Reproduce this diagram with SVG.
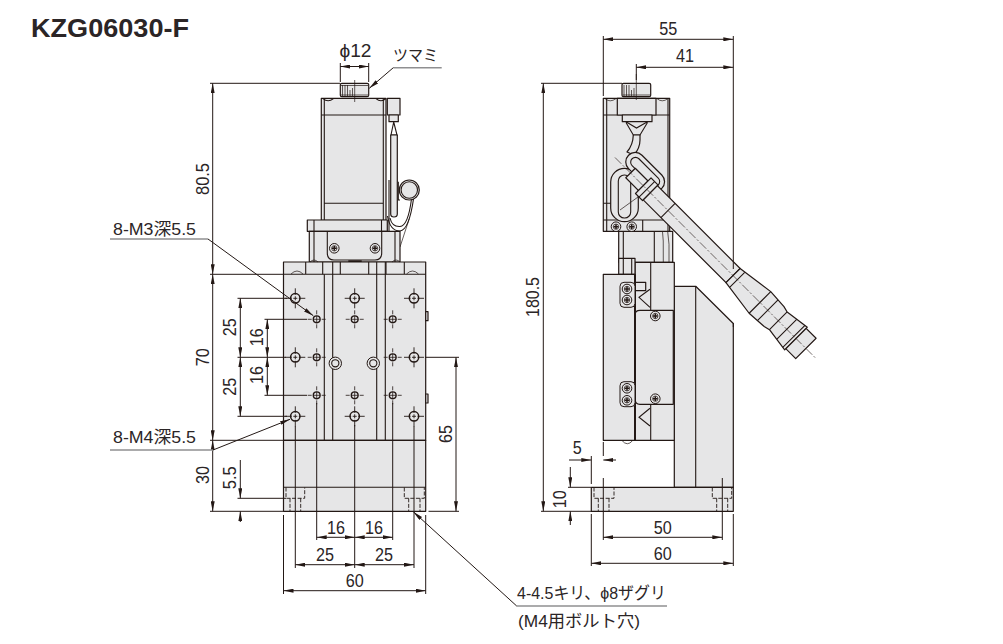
<svg xmlns="http://www.w3.org/2000/svg" xmlns:xlink="http://www.w3.org/1999/xlink" width="1003" height="644" viewBox="0 0 1003 644">
<style>
text{font-family:"Liberation Sans","Noto Sans CJK JP",sans-serif;font-size:19px;fill:#2b2526}
.jp{font-size:17px}
.b{fill:#e6e6e7;stroke:#231815;stroke-width:1.2;stroke-linejoin:round}
.l{fill:none;stroke:#231815;stroke-width:1.1}
.t{fill:none;stroke:#231815;stroke-width:2}
.n{fill:none;stroke:#231815;stroke-width:.7}
.d{fill:none;stroke:#231815;stroke-width:1}
.c{fill:none;stroke:#231815;stroke-width:.6;stroke-dasharray:9 2 2 2}
.h{fill:none;stroke:#231815;stroke-width:.9;stroke-dasharray:4 1.6}
.g{fill:none;stroke:#8f8f91;stroke-width:1.6}
.a{fill:none;stroke:#231815;stroke-width:1;marker-end:url(#ar)}
.aa{fill:none;stroke:#231815;stroke-width:1;marker-start:url(#ar);marker-end:url(#ar)}
.sc{fill:#e6e6e7;stroke:#231815;stroke-width:1}
</style>
<defs>
<marker id="ar" viewBox="0 0 10 4" refX="10" refY="2" markerWidth="10" markerHeight="4" markerUnits="userSpaceOnUse" orient="auto-start-reverse"><path d="M0 0L10 2L0 4z" fill="#231815"/></marker>
<g id="hb"><circle r="4.7" fill="#e6e6e7" stroke="#231815" stroke-width="1.5"/><path d="M-10 0H10M0-10V10" stroke="#231815" stroke-width=".9" stroke-dasharray="6.5 1.5 4 1.5 6.5"/></g>
<g id="hs"><circle r="3.4" fill="#e6e6e7" stroke="#231815" stroke-width="1.4"/><path d="M-9 0H9M0-9V9" stroke="#231815" stroke-width=".8" stroke-dasharray="4 1.5 7 1.5 4"/></g>
<g id="sw"><circle r="4.8" fill="#e6e6e7" stroke="#231815" stroke-width="1"/><circle r="2.7" fill="none" stroke="#231815" stroke-width=".7"/><path d="M-2.4 0H2.4M0-2.4V2.4" stroke="#231815" stroke-width="1.5"/></g>
</defs>

<text x="31" y="37" font-weight="700" style="font-size:25.5px" textLength="158" lengthAdjust="spacingAndGlyphs">KZG06030-F</text>

<g id="front-view">
<!-- knob -->
<rect class="b" x="340.3" y="83.3" width="28.4" height="13.4" rx="1.5"/>
<path class="n" d="M342.5 85V96M345 85V96M347.5 85V96M350 90V96M352.5 88V96M340.5 85.5H368M340.5 95H368"/>
<!-- motor -->
<rect class="b" x="321.3" y="98.3" width="64.7" height="122"/>
<path class="l" d="M324.3 99V220M383.3 99V220M321.3 115H386M324.3 203.3H383.3"/>
<path class="l" d="M323 98.6Q328 103 333.5 98.6M376 98.6Q381 103 386 98.6"/>
<path class="n" d="M354.7 80V102"/>
<!-- cable side -->
<rect class="b" x="387.3" y="98.3" width="12.7" height="16.7"/>
<rect class="b" x="389" y="115" width="9.3" height="6.7"/>
<path class="l" d="M393.7 122L391 135H397L393.7 122"/>
<path class="b" d="M390.7 135H397.3V214Q397.3 217 394 217Q390.7 217 390.7 214Z"/>
<path class="l" d="M389 180V231.3M398.3 181.7V200H400"/>
<path class="l" d="M390 218Q392 227 400 226.5Q408 226 411.5 199"/>
<path class="l" d="M387.5 216Q390 231 400 231Q409 230 413.5 199"/>
<path class="n" d="M409.3 218.5L400 247"/>
<circle class="b" cx="409.3" cy="190" r="10"/><circle class="l" cx="409.3" cy="190" r="8.2"/>
<!-- flange & bracket -->
<rect class="b" x="307.3" y="220" width="80" height="11.3"/>
<path class="l" d="M314 220V231M381.5 220V231"/>
<rect class="b" x="309.3" y="231.3" width="90.7" height="30.7"/>
<path class="l" d="M314 231.3V262M395 231.3V262"/>
<path class="l" d="M327.3 231.3V253Q327.3 260 334 260H375Q381.7 260 381.7 253V231.3"/>
<use xlink:href="#sw" href="#sw" x="334.3" y="248.3"/><use xlink:href="#sw" href="#sw" x="375" y="248.3"/>
<path class="t" d="M348.3 261.3H361.7"/>
<!-- body -->
<rect class="b" x="283.5" y="262" width="142.2" height="178.3"/>
<path class="b" d="M425.7 311.7H428V320.7H425.7ZM425.7 394H428V403H425.7Z"/>
<path class="l" d="M283.5 274.3H305.7M404.3 274.3H425.7M305.7 262V274.3H404.3V262"/>
<path class="l" d="M322.7 262V274.3M340.3 262V274.3M368.7 262V274.3M386 262V274.3"/>
<path class="l" d="M324.3 274.3V440M332.7 262V440M376.7 262V440M385.3 262V440"/>
<path class="n" d="M291 274Q297 268 303 274M406.5 274Q412.5 268 418.5 274M310 262Q314 258 318 262M392 262Q396 258 400 262"/>
<path class="n" d="M290 440.5Q296.5 447 303 440.5M305.5 440.5Q312 447 318.5 440.5M391 440.5Q397.5 447 404 440.5M406 440.5Q412.5 447 419 440.5"/>
<!-- base -->
<rect class="b" x="283.5" y="440.3" width="142.2" height="71"/>
<path class="l" d="M283.5 487.3H425.7"/>
<path class="h" d="M286 487.5V498.3H304.7V487.5M290 498.3V511M300.7 498.3V511M404.3 487.5V498.3H424.3V487.5M408.7 498.3V511M420 498.3V511"/>
<!-- holes -->
<use xlink:href="#hb" href="#hb" x="295.3" y="298.3"/><use xlink:href="#hb" href="#hb" x="354.7" y="298.3"/><use xlink:href="#hb" href="#hb" x="414" y="298.3"/>
<use xlink:href="#hb" href="#hb" x="295.3" y="357.3"/><use xlink:href="#hb" href="#hb" x="414" y="357.3"/>
<use xlink:href="#hb" href="#hb" x="295.3" y="416.3"/><use xlink:href="#hb" href="#hb" x="354.7" y="416.3"/><use xlink:href="#hb" href="#hb" x="414" y="416.3"/>
<use xlink:href="#hs" href="#hs" x="316.7" y="319.3"/><use xlink:href="#hs" href="#hs" x="354.7" y="319.3"/><use xlink:href="#hs" href="#hs" x="392.7" y="319.3"/>
<use xlink:href="#hs" href="#hs" x="316.7" y="357.3"/><use xlink:href="#hs" href="#hs" x="392.7" y="357.3"/>
<use xlink:href="#hs" href="#hs" x="316.7" y="395.3"/><use xlink:href="#hs" href="#hs" x="354.7" y="395.3"/><use xlink:href="#hs" href="#hs" x="392.7" y="395.3"/>
<circle class="sc" cx="335.3" cy="363.3" r="6.2" stroke-width="1.3"/><circle class="l" cx="335.3" cy="363.3" r="3.6"/>
<circle class="sc" cx="373.3" cy="363.3" r="6.2" stroke-width="1.3"/><circle class="l" cx="373.3" cy="363.3" r="3.6"/>
</g>

<g id="side-view">
<!-- column -->
<path class="b" d="M674.3 286.3H695.7L733.3 323.5V487.3H674.3Z"/>
<path class="l" d="M695.7 286.3V487.3"/>
<!-- base -->
<rect class="b" x="591.3" y="487.3" width="142" height="24"/>
<path class="h" d="M594 487.5V498.3H614V487.5M598.3 498.3V511M609 498.3V511M712.3 487.5V498.3H731.7V487.5M716.7 498.3V511M727.7 498.3V511"/>
<!-- bracket -->
<rect class="b" x="618.7" y="231.3" width="54" height="31"/>
<path class="l" d="M623.3 231.3V262M654.3 231.3V262"/>
<path class="n" d="M661.7 222Q664 240 663.3 262M667 225Q670 245 669 262"/>
<!-- moving table -->
<rect class="b" x="635" y="262.3" width="39.3" height="178"/>
<rect class="b" x="618.7" y="258.3" width="16.3" height="16"/>
<path class="l" d="M623.3 258.3V274M631.7 258.3V274"/>
<path class="l" d="M650.7 262.3V310.3M650.7 404.3V440.3"/>
<path class="b" d="M635 282.3H645.7V290.7H635Z"/>
<path class="l" d="M650 289.3L639 297.3L650 307.3M650 408.3L639 417.3L650 426"/>
<path class="b" d="M635 315Q635 310.3 640 310.3H673.3V404.3H640Q635 404.3 635 399Z"/>
<rect class="b" x="603.3" y="274.3" width="31.7" height="166"/>
<path class="t" d="M635 274.3V440.3"/>
<path class="n" d="M622 440.5Q627.3 447 632.7 440.5"/>
<rect class="sc" x="620" y="282.3" width="15" height="25" rx="4" stroke-width="1.6"/>
<rect class="sc" x="620" y="381.7" width="15" height="25" rx="4" stroke-width="1.6"/>
<use xlink:href="#sw" href="#sw" x="627" y="289"/><use xlink:href="#sw" href="#sw" x="627" y="300"/>
<use xlink:href="#sw" href="#sw" x="627" y="388.3"/><use xlink:href="#sw" href="#sw" x="627" y="400.3"/>
<use xlink:href="#sw" href="#sw" x="655.3" y="316"/><use xlink:href="#sw" href="#sw" x="655.3" y="398.7"/>
<!-- motor -->
<rect class="b" x="622" y="83.3" width="28.7" height="13.4" rx="1.5"/>
<path class="n" d="M624 85V96M626.5 85V96M629 85V96M631.5 90V96M634 88V96M622.5 95H650"/>
<rect class="b" x="603.3" y="98.3" width="66.4" height="133"/>
<path class="l" d="M606.7 98.3V231.3M668 98.3V231M603.3 115H669.7M603.3 203.3H614M603.3 220H669.7M642.7 220V231.3"/>
<path class="n" d="M605 98.6Q610 103 616 98.6M657 98.6Q662 103 668 98.6"/>
<path class="b" d="M617.3 98.3H656V115H617.3Z"/>
<rect class="b" x="622.3" y="115" width="29.7" height="6.7"/>
<path class="l" d="M626 122.5L633.3 135H640L647.5 122.5M626 121.7L636.5 128L647.5 121.7"/>
<path class="b" d="M633.3 135H640V140Q640 148 634 155L627 152Q633 145 633.3 135Z"/>
<use xlink:href="#sw" href="#sw" x="616" y="226.7"/><use xlink:href="#sw" href="#sw" x="631.7" y="226.7"/>
<path class="n" d="M636.3 74V100"/>
<!-- hanging loop -->
<rect class="b" x="610.7" y="168.3" width="27.6" height="53.4" rx="13.8"/>
<rect class="l" x="618.3" y="175" width="12.4" height="43" rx="6"/>
<path class="n" d="M620 210L638 197"/>
<!-- cable -->
<g transform="translate(647.5 190) rotate(45)">
<rect class="b" x="-38" y="-20.7" width="47" height="19" rx="9.5"/>
<rect class="l" x="-33" y="-16" width="37" height="9.6" rx="4.8"/>
<path class="b" d="M-24-6.7H-6V6.7H-24Z"/>
<path class="b" d="M-6-11H4V11H-6Z"/>
<path class="l" d="M-1-11V11"/>
<path class="b" d="M4-10H121V10H4Z"/>
<path class="l" d="M29-10V10"/>
<path class="b" d="M121-10L159-15.3L179-14L185-12.5L210-16V16L185 12.5L179 14L159 15.3L121 10Z"/>
<path class="b" d="M210-14.4H224V14.4H210Z"/>
<path class="l" d="M127-10.5V10.5M159-15.3V15.3M170-14.6V14.6M185-12.5V12.5M197-14V14M207-15.7V15.7"/>
<path class="c" d="M-46 0H239"/>
</g>
</g>

<g id="dimensions">
<!-- φ12 & knob label -->
<path class="d" d="M340.3 63V82M368.7 63V82"/>
<path class="aa" d="M340.3 66.5H368.7"/>
<path class="g" d="M393.3 67.7H441.7"/>
<path class="a" d="M393.3 67.7L369.3 88.3"/>
<!-- 80.5 / 70 / 30 -->
<path class="d" d="M210 83.3H340M210 274.3H283M210 440.3H283M210 511.3H283"/>
<path class="aa" d="M212.7 83.3V274.3"/>
<path class="aa" d="M212.7 274.3V440.3"/>
<path class="aa" d="M212.7 440.3V511.3"/>
<!-- 25 25 -->
<path class="d" d="M237.5 298.3H287M237.5 357.3H286M237.5 416.3H287"/>
<path class="aa" d="M240.3 298.3V357.3"/>
<path class="aa" d="M240.3 357.3V416.3"/>
<!-- 16 16 -->
<path class="d" d="M264.5 319.3H307M264.5 395.3H307"/>
<path class="aa" d="M267.3 319.3V357.3"/>
<path class="aa" d="M267.3 357.3V395.3"/>
<!-- 5.5 -->
<path class="d" d="M237.5 498.3H286"/>
<path class="a" d="M240.3 460V498.3"/>
<path class="a" d="M240.3 522V511.3"/>
<!-- leaders -->
<path class="g" d="M110 239H208"/>
<path class="a" d="M208 239L313.3 315.7"/>
<path class="g" d="M110 450H213"/>
<path class="a" d="M213 450L290 419.3"/>
<!-- 65 -->
<path class="d" d="M425 357.3H459M428.5 511.3H459"/>
<path class="aa" d="M456 357.3V511.3"/>
<!-- bottom dims -->
<path class="d" d="M295.3 426V568M316.7 403V540M354.7 425V568M392.7 403V540M414 426V568M283.5 515V594M425.7 515V594"/>
<path class="aa" d="M316.7 537.3H354.7"/>
<path class="aa" d="M354.7 537.3H392.7"/>
<path class="aa" d="M295.3 564.7H354.7"/>
<path class="aa" d="M354.7 564.7H414"/>
<path class="aa" d="M283.5 590.7H425.7"/>
<path class="g" d="M516.7 606H667"/>
<path class="a" d="M516.7 606L413.3 511.7"/>
<!-- side dims -->
<path class="d" d="M603.3 36V96M733.3 36V269M733.3 323V327M636.3 64V80"/>
<path class="aa" d="M603.3 39.3H733.3"/>
<path class="aa" d="M636.3 67.3H733.3"/>
<path class="d" d="M541 83.3H622M541 511.3H591"/>
<path class="aa" d="M543.3 83.3V511.3"/>
<path class="d" d="M568 487.3H591"/>
<path class="a" d="M570.3 467V487.3"/>
<path class="a" d="M570.3 525V511.3"/>
<path class="a" d="M569 460H591.3"/>
<path class="a" d="M616 460H603.3"/>
<path class="d" d="M591.3 456V484M603.3 442V456M603.3 478V540M722.3 478V540M591.3 514V566M733.3 514V566"/>
<path class="aa" d="M603.3 537.3H722.3"/>
<path class="aa" d="M591.3 563.3H733.3"/>
</g>

<g id="labels">
<text x="339.5" y="57.3" textLength="32" lengthAdjust="spacingAndGlyphs">ϕ12</text>
<text class="jp" x="393" y="60.5" style="font-size:16px" textLength="45" lengthAdjust="spacingAndGlyphs">ツマミ</text>
<text class="jp" x="113" y="234.5" textLength="83" lengthAdjust="spacingAndGlyphs">8-M3深5.5</text>
<text class="jp" x="113" y="443" textLength="83" lengthAdjust="spacingAndGlyphs">8-M4深5.5</text>
<text class="jp" x="517" y="599.3" textLength="149" lengthAdjust="spacingAndGlyphs">4-4.5キリ、ϕ8ザグリ</text>
<text class="jp" x="518" y="626.7" textLength="122" lengthAdjust="spacingAndGlyphs">(M4用ボルト穴)</text>
<g text-anchor="middle">
<text transform="translate(209.3 179) rotate(-90)" textLength="32" lengthAdjust="spacingAndGlyphs">80.5</text>
<text transform="translate(209.3 357.3) rotate(-90)" textLength="18" lengthAdjust="spacingAndGlyphs">70</text>
<text transform="translate(209.3 475) rotate(-90)" textLength="18" lengthAdjust="spacingAndGlyphs">30</text>
<text transform="translate(236 327.3) rotate(-90)" textLength="18" lengthAdjust="spacingAndGlyphs">25</text>
<text transform="translate(236 386.7) rotate(-90)" textLength="18" lengthAdjust="spacingAndGlyphs">25</text>
<text transform="translate(236 477.7) rotate(-90)" textLength="23" lengthAdjust="spacingAndGlyphs">5.5</text>
<text transform="translate(262.7 337.3) rotate(-90)" textLength="18" lengthAdjust="spacingAndGlyphs">16</text>
<text transform="translate(262.7 375) rotate(-90)" textLength="18" lengthAdjust="spacingAndGlyphs">16</text>
<text transform="translate(451.7 434) rotate(-90)" textLength="18" lengthAdjust="spacingAndGlyphs">65</text>
<text x="336" y="534" textLength="18" lengthAdjust="spacingAndGlyphs">16</text>
<text x="374" y="534" textLength="18" lengthAdjust="spacingAndGlyphs">16</text>
<text x="325" y="561" textLength="18" lengthAdjust="spacingAndGlyphs">25</text>
<text x="384" y="561" textLength="18" lengthAdjust="spacingAndGlyphs">25</text>
<text x="354.7" y="586.7" textLength="18" lengthAdjust="spacingAndGlyphs">60</text>
<text x="668.3" y="35" textLength="18" lengthAdjust="spacingAndGlyphs">55</text>
<text x="685" y="61.7" textLength="18" lengthAdjust="spacingAndGlyphs">41</text>
<text transform="translate(539.3 297) rotate(-90)" textLength="40" lengthAdjust="spacingAndGlyphs">180.5</text>
<text x="577.3" y="454" textLength="9" lengthAdjust="spacingAndGlyphs">5</text>
<text transform="translate(565.7 499.3) rotate(-90)" textLength="18" lengthAdjust="spacingAndGlyphs">10</text>
<text x="662.7" y="534" textLength="18" lengthAdjust="spacingAndGlyphs">50</text>
<text x="662.7" y="560" textLength="18" lengthAdjust="spacingAndGlyphs">60</text>
</g>
</g>
</svg>
